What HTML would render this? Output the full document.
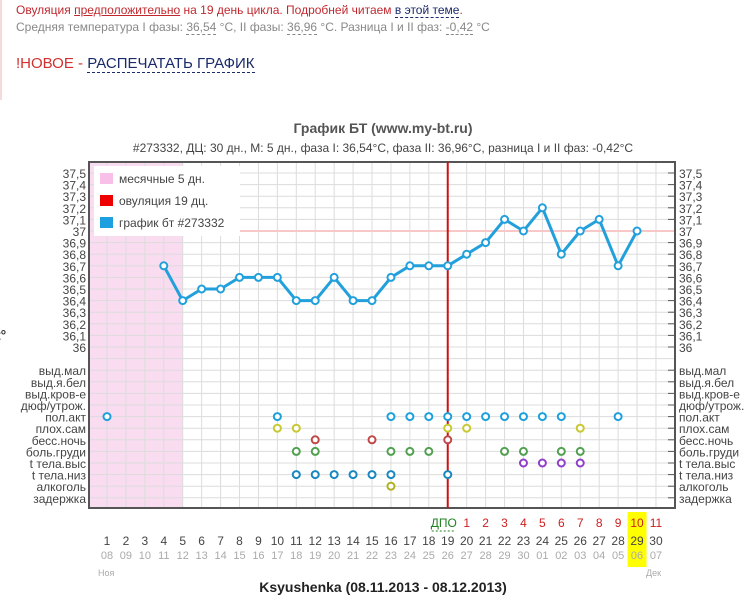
<!DOCTYPE html>
<html><head><meta charset="utf-8"><style>
body{margin:0;width:747px;height:595px;overflow:hidden;background:#fff;font-family:"Liberation Sans","DejaVu Sans",sans-serif;position:relative}
.t{position:absolute;white-space:nowrap}
</style></head><body>
<div style="position:absolute;left:0;top:0;width:2px;height:100px;background:#f4dada"></div>
<div class="t" style="left:16px;top:3px;font-size:12px;color:#c0282e">Овуляция <span style="text-decoration:underline">предположительно</span> на 19 день цикла. Подробней читаем <span style="color:#1a2a6a;border-bottom:1px dashed #1a2a6a">в этой теме</span>.</div>
<div class="t" style="left:16px;top:20px;font-size:12px;color:#888">Средняя температура I фазы: <span style="border-bottom:1px dashed #888">36,54</span> °C, II фазы: <span style="border-bottom:1px dashed #888">36,96</span> °C. Разница I и II фаз: <span style="border-bottom:1px dashed #888">-0,42</span> °C</div>
<div class="t" style="left:16px;top:55px;font-size:15px;color:#d03030">!НОВОЕ - <span style="color:#1a2a6a;border-bottom:1px dashed #1a2a6a">РАСПЕЧАТАТЬ ГРАФИК</span></div>
<svg id="c" width="747" height="595" style="position:absolute;left:0;top:0" font-family="Liberation Sans, DejaVu Sans, sans-serif">
<text x="383" y="133" text-anchor="middle" font-size="14" font-weight="bold" fill="#555">График БТ (www.my-bt.ru)</text>
<text x="383" y="152" text-anchor="middle" font-size="12" fill="#444">#273332, ДЦ: 30 дн., М: 5 дн., фаза I: 36,54°C, фаза II: 36,96°C, разница I и II фаз: -0,42°C</text>
<text x="-4" y="340" font-size="14" font-weight="bold" fill="#333">t°</text>
<text x="383" y="592" text-anchor="middle" font-size="14" font-weight="bold" fill="#222">Ksyushenka (08.11.2013 - 08.12.2013)</text>
</svg>
<script>
const days=[1,2,3,4,5,6,7,8,9,10,11,12,13,14,15,16,17,18,19,20,21,22,23,24,25,26,27,28,29,30];
const dates=["08","09","10","11","12","13","14","15","16","17","18","19","20","21","22","23","24","25","26","27","28","29","30","01","02","03","04","05","06","07"];
const tempDays=[4,5,6,7,8,9,10,11,12,13,14,15,16,17,18,19,20,21,22,23,24,25,26,27,28,29];
const temps=[36.7,36.4,36.5,36.5,36.6,36.6,36.6,36.4,36.4,36.6,36.4,36.4,36.6,36.7,36.7,36.7,36.8,36.9,37.1,37.0,37.2,36.8,37.0,37.1,36.7,37.0];
const tempTicks=["37,5","37,4","37,3","37,2","37,1","37","36,9","36,8","36,7","36,6","36,5","36,4","36,3","36,2","36,1","36"];
const symptomLabels=["выд.мал","выд.я.бел","выд.кров-е","дюф/утрож.","пол.акт","плох.сам","бесс.ночь","боль.груди","t тела.выс","t тела.низ","алкоголь","задержка"];
const sexDays=[1,10,16,17,18,19,20,21,22,23,24,25,28];
const unwellDays=[10,11,19,20,26];
const insomniaDays=[12,15,19];
const breastDays=[11,12,16,17,18,22,23,25,26];
const highTempDays=[23,24,25,26];
const lowTempDays=[11,12,13,14,15,16,19];
const alcoholDays=[16];
const menstrDays=5, ovulationDay=19, highlightDay=29;
const dpoLabels=["ДПО","1","2","3","4","5","6","7","8","9","10","11"];

const NS="http://www.w3.org/2000/svg",svg=document.getElementById('c');
const L=89,R=675,T=162,B=508;
const X=d=>107+(d-1)*18.93;
const Y=v=>173+(37.5-v)/0.1*11.6;
const RY=i=>370.2+i*11.6;
function mk(t,a,p){const e=document.createElementNS(NS,t);for(const k in a)e.setAttribute(k,a[k]);(p||svg).appendChild(e);return e;}
let h=mk('rect',{x:X(highlightDay)-9.5,y:512,width:19,height:55,fill:'#ffff00'});


mk('rect',{x:L,y:T,width:R-L,height:B-T,fill:'#fff'});
let pk=mk('rect',{x:L,y:T,width:X(menstrDays)-L,height:B-T,fill:'#f9dcf0'});


for(let d=1;d<=31;d++){mk('line',{x1:X(d),x2:X(d),y1:T,y2:B,stroke:'#dcdcdc','stroke-width':1});}
for(let i=0;i<tempTicks.length;i++){const y=Y(37.5-i*0.1);mk('line',{x1:L,x2:R,y1:y,y2:y,stroke:'#dcdcdc'});mk('line',{x1:R-7,x2:R,y1:y,y2:y,stroke:'#555'});
 let t=mk('text',{x:R+4,y:y+5,'font-size':12,fill:'#444'});t.textContent=tempTicks[i];
 
 
 let t2=mk('text',{x:L-3,y:y+5,'font-size':12,fill:'#444','text-anchor':'end'});t2.textContent=tempTicks[i];
 
 }
mk('line',{x1:L,x2:R,y1:Y(35.9),y2:Y(35.9),stroke:'#dcdcdc'});
for(let i=0;i<symptomLabels.length;i++){const y=RY(i);mk('line',{x1:L,x2:R,y1:y,y2:y,stroke:'#dcdcdc'});mk('line',{x1:R-7,x2:R,y1:y,y2:y,stroke:'#555'});
 let t=mk('text',{x:R+4,y:y+5,'font-size':12,fill:'#444'});t.textContent=symptomLabels[i];
 
 
 let t2=mk('text',{x:L-3,y:y+5,'font-size':12,fill:'#444','text-anchor':'end'});t2.textContent=symptomLabels[i];
 
 }
mk('line',{x1:196,x2:R,y1:Y(37),y2:Y(37),stroke:'#f8c8c8','stroke-width':2});
let bd=mk('rect',{x:L,y:T,width:R-L,height:B-T,fill:'none',stroke:'#555','stroke-width':2});


let ov=mk('line',{x1:X(ovulationDay),x2:X(ovulationDay),y1:T,y2:B,stroke:'#cc1111','stroke-width':2});


let pts=tempDays.map((d,i)=>X(d)+','+Y(temps[i])).join(' ');
let pl=mk('polyline',{points:pts,fill:'none',stroke:'#22a0dc','stroke-width':3,'stroke-linejoin':'round'});


tempDays.forEach((d,i)=>{let c=mk('circle',{cx:X(d),cy:Y(temps[i]),r:3.5,fill:'#fff',stroke:'#22a0dc','stroke-width':2});
 
 });
const sets=[[sexDays,4,'#1ea0dc'],[unwellDays,5,'#c8c830'],[insomniaDays,6,'#c04848'],[breastDays,7,'#50a050'],[highTempDays,8,'#9040c8'],[lowTempDays,9,'#1888c0'],[alcoholDays,10,'#b0b020']];
sets.forEach(s=>s[0].forEach(d=>{let c=mk('circle',{cx:X(d),cy:RY(s[1]),r:3.5,fill:'#fff',stroke:s[2],'stroke-width':2});
 
 }));
let lg=mk('g',{});


mk('rect',{x:94,y:166,width:146,height:70,fill:'#fff'},lg);
[['месячные 5 дн.','#f8c0e8'],['овуляция 19 дц.','#ee0000'],['график бт #273332','#1ea0e0']].forEach((e,i)=>{
 mk('rect',{x:100,y:173+i*22,width:13,height:11,fill:e[1]},lg);
 let t=mk('text',{x:119,y:183+i*22,'font-size':12,fill:'#444'},lg);t.textContent=e[0];
 
 });
days.forEach((d,i)=>{let t=mk('text',{x:X(d),y:545,'font-size':12,fill:'#444','text-anchor':'middle'});t.textContent=d;
 
 
 let t2=mk('text',{x:X(d),y:559,'font-size':11,fill:'#aaa','text-anchor':'middle'});t2.textContent=dates[i];
 
 });
dpoLabels.forEach((s,i)=>{let d=ovulationDay+i;let t=mk('text',{x:i==0?X(d)-4:X(d),y:527,'font-size':12,fill:i==0?'#208020':'#cc2020','text-anchor':'middle'});t.textContent=s;
 
 });
mk('line',{x1:X(ovulationDay)-16,x2:X(ovulationDay)+8,y1:531,y2:531,stroke:'#208020','stroke-dasharray':'2,2'});
[['Ноя',98],['Дек',646]].forEach(m=>{let t=mk('text',{x:m[1],y:576,'font-size':9,fill:'#aaa'});t.textContent=m[0];
 
 });
</script>
</body></html>
